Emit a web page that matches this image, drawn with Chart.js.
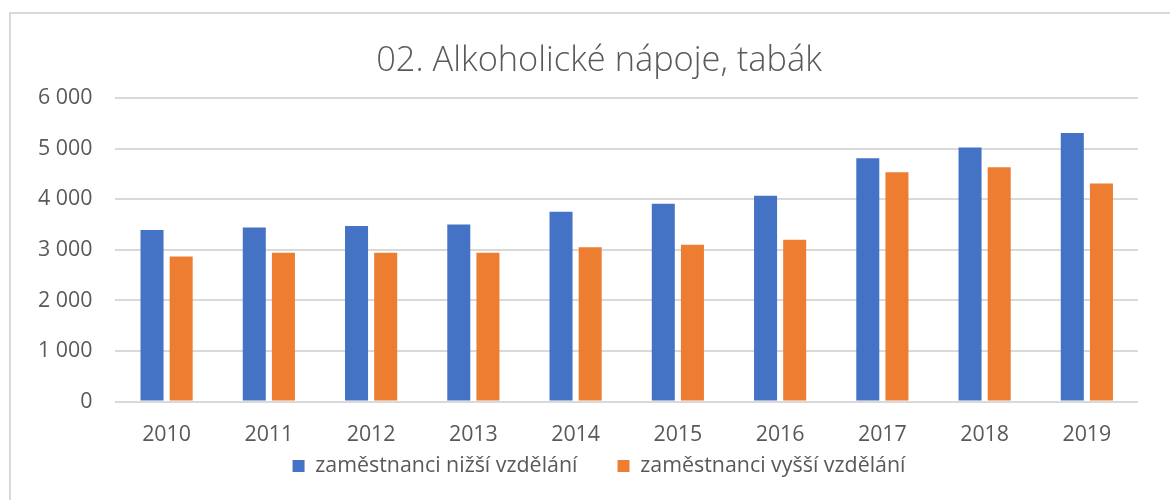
<!DOCTYPE html>
<html>
<head>
<meta charset="utf-8">
<script src="https://cdn.jsdelivr.net/npm/chart.js@4.4.1/dist/chart.umd.min.js"></script>
<style>
  html, body { margin: 0; padding: 0; background: #fff; overflow: hidden; }
  #frame { position: absolute; left: 9px; top: 12px; width: 1300px; height: 700px; border: 2px solid #d9d9d9; box-sizing: border-box; }
  #wrap { position: absolute; left: 0; top: 0; width: 1196px; height: 500px; }
</style>
</head>
<body>
<div id="frame"></div>
<div id="wrap"><canvas id="c"></canvas></div>
<script>
const categories = ['2010','2011','2012','2013','2014','2015','2016','2017','2018','2019'];
const seriesNames = ['zaměstnanci nižší vzdělání', 'zaměstnanci vyšší vzdělání'];
const lowerEdu  = [3390, 3440, 3470, 3500, 3750, 3910, 4070, 4810, 5020, 5310];
const higherEdu = [2870, 2940, 2940, 2940, 3050, 3100, 3200, 4530, 4630, 4310];
const titleText = '02. Alkoholické nápoje, tabák';

const FONT = '"Open Sans", Lato, sans-serif';
const TXT = '#595959';

function fmt(v) { return String(v).replace(/\B(?=(\d{3})+(?!\d))/g, ' '); }

new Chart(document.getElementById('c'), {
  type: 'bar',
  data: {
    labels: categories,
    datasets: [
      { label: seriesNames[0], data: lowerEdu, backgroundColor: '#4472C4', categoryPercentage: 0.57, barPercentage: 0.79 },
      { label: seriesNames[1], data: higherEdu, backgroundColor: '#ED7D31', categoryPercentage: 0.57, barPercentage: 0.79 }
    ]
  },
  options: {
    responsive: true,
    maintainAspectRatio: false,
    animation: false,
    layout: { padding: { top: 41, left: 15, right: 13, bottom: 13.3 } },
    plugins: {
      title: {
        display: true, text: titleText, color: TXT,
        font: { family: FONT, size: 34.4, weight: 300 },
        padding: { top: 0, bottom: 15.7 }
      },
      legend: {
        position: 'bottom',
        labels: {
          color: TXT, boxWidth: 12, boxHeight: 12, padding: 8,
          font: { family: FONT, size: 21.4 },
          generateLabels: (chart) => {
            const items = Chart.defaults.plugins.legend.labels.generateLabels(chart);
            items[0].text = items[0].text + '\u2003\u2002';
            return items;
          }
        }
      },
      tooltip: { enabled: false }
    },
    scales: {
      x: {
        grid: { display: false, drawTicks: true, tickLength: 20 },
        border: { display: false },
        ticks: { color: TXT, padding: 0, font: { family: FONT, size: 21.4 } }
      },
      y: {
        min: 0, max: 6000,
        grid: { color: '#d9d9d9', lineWidth: 2, drawTicks: false },
        border: { display: false },
        ticks: { stepSize: 1000, color: TXT, padding: 23, font: { family: FONT, size: 21.4 }, callback: (v) => fmt(v) }
      },
      yRight: {
        position: 'right',
        min: 0, max: 6000,
        grid: { display: false, drawTicks: false },
        border: { display: false },
        ticks: { display: false },
        afterFit: (s) => { s.width = 45; }
      }
    }
  }
});
</script>
</body>
</html>
